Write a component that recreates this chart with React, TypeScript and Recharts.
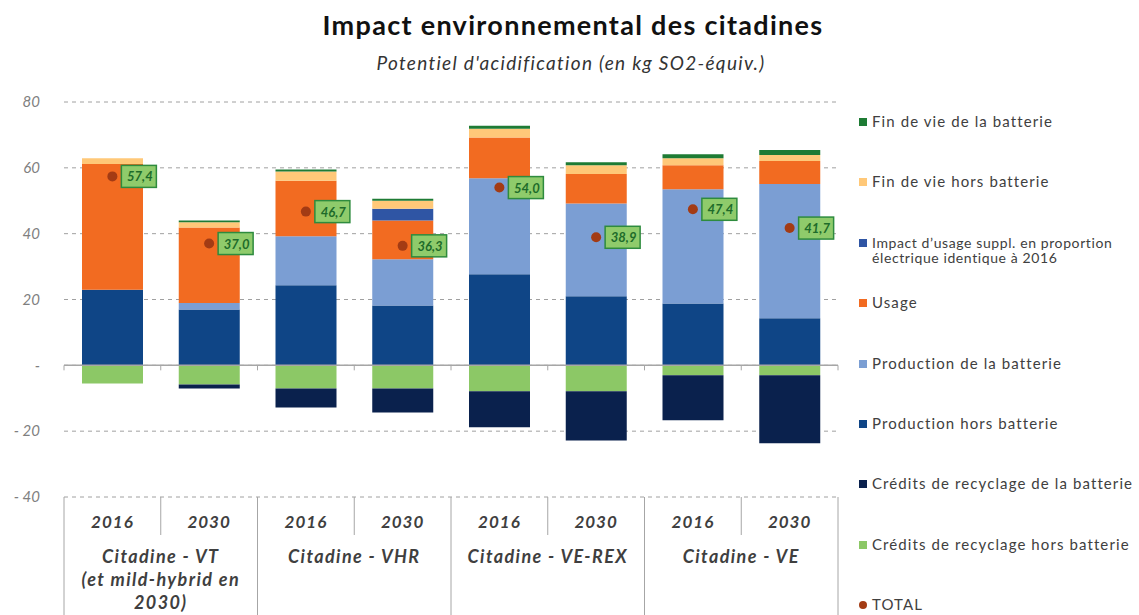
import React from 'react';
import {
  ComposedChart,
  Bar,
  Line,
  XAxis,
  YAxis,
  CartesianGrid,
  ReferenceLine,
  LabelList,
} from 'recharts';

// categories
const years = ['2016', '2030', '2016', '2030', '2016', '2030', '2016', '2030'];
const groups = [
  ['Citadine - VT', '(et mild-hybrid en', '2030)'],
  ['Citadine - VHR'],
  ['Citadine - VE-REX'],
  ['Citadine - VE'],
];

// series (kg SO2-équiv.)
const prodHors = [23.0, 17.0, 24.3, 18.2, 27.7, 21.0, 18.8, 14.3];
const prodBatt = [0, 1.9, 14.9, 14.0, 29.1, 28.2, 34.7, 40.8];
const usage = [38.2, 23.0, 16.9, 11.8, 12.4, 8.9, 7.3, 7.0];
const impactSuppl = [0, 0, 0, 3.6, 0, 0, 0, 0];
const finHors = [1.7, 1.6, 2.8, 2.4, 2.7, 2.7, 2.1, 1.8];
const finBatt = [0, 0.5, 0.6, 0.6, 0.9, 0.9, 1.2, 1.5];
const credHors = [-5.5, -5.8, -7.0, -7.0, -7.9, -7.9, -3.0, -3.0];
const credBatt = [0, -1.2, -5.8, -7.3, -10.9, -14.9, -13.7, -20.7];
const total = [57.4, 37.0, 46.7, 36.3, 54.0, 38.9, 47.4, 41.7];

const yTicks = [-40, -20, 0, 20, 40, 60, 80];

const series = [
  { key: 'prodHors', name: 'Production hors batterie', color: '#0F4586' },
  { key: 'prodBatt', name: 'Production de la batterie', color: '#7B9ED3' },
  { key: 'usage', name: 'Usage', color: '#F26B21' },
  { key: 'impactSuppl', name: "Impact d\u2019usage suppl. en proportion\nélectrique identique à 2016", color: '#2F55A4' },
  { key: 'finHors', name: 'Fin de vie hors batterie', color: '#FFC878' },
  { key: 'finBatt', name: 'Fin de vie de la batterie', color: '#1E7B34' },
  { key: 'credHors', name: 'Crédits de recyclage hors batterie', color: '#8CC866' },
  { key: 'credBatt', name: 'Crédits de recyclage de la batterie', color: '#0A214D' },
];

const legendOrder = ['finBatt', 'finHors', 'impactSuppl', 'usage', 'prodBatt', 'prodHors', 'credBatt', 'credHors'];

const data = years.map((y, i) => ({
  year: y,
  prodHors: prodHors[i],
  prodBatt: prodBatt[i],
  usage: usage[i],
  impactSuppl: impactSuppl[i],
  finHors: finHors[i],
  finBatt: finBatt[i],
  credHors: credHors[i],
  credBatt: credBatt[i],
  total: total[i],
}));

const W = 1139;
const H = 615;
const PLOT_LEFT = 64;
const PLOT_RIGHT = 838;
const PLOT_TOP = 102;
const PLOT_BOTTOM = 497;
const BAND = (PLOT_RIGHT - PLOT_LEFT) / years.length;
const ZERO_Y = PLOT_TOP + (80 / 120) * (PLOT_BOTTOM - PLOT_TOP);
const FONT = 'Lato, "Open Sans", sans-serif';
const LINE_COLOR = '#A6A6A6';

const fmtY = (v: number) => (v === 0 ? '-' : v < 0 ? `- ${Math.abs(v)}` : `${v}`);

const CategoryTick = (props: any) => {
  const { x, payload } = props;
  const i = payload.index;
  const left = x - BAND / 2;
  const right = x + BAND / 2;
  const even = i % 2 === 0;
  const lines = even ? groups[i / 2] : [];
  return (
    <g>
      <line x1={left} x2={left} y1={ZERO_Y} y2={ZERO_Y + 5} stroke={LINE_COLOR} />
      {i === years.length - 1 && (
        <line x1={right} x2={right} y1={ZERO_Y} y2={ZERO_Y + 5} stroke={LINE_COLOR} />
      )}
      <line
        x1={left}
        x2={left}
        y1={PLOT_BOTTOM}
        y2={even ? H : PLOT_BOTTOM + 38}
        stroke={LINE_COLOR}
      />
      {i === years.length - 1 && (
        <line x1={right} x2={right} y1={PLOT_BOTTOM} y2={H} stroke={LINE_COLOR} />
      )}
      <text
        x={x}
        y={PLOT_BOTTOM + 31}
        textAnchor="middle"
        fontFamily={FONT}
        fontSize={17}
        fontWeight="bold"
        fontStyle="italic"
        letterSpacing={1}
        fill="#3F3F3F"
      >
        {payload.value}
      </text>
      {lines.map((t: string, k: number) => (
        <text
          key={k}
          x={right}
          y={PLOT_BOTTOM + 66 + k * 23}
          textAnchor="middle"
          fontFamily={FONT}
          fontSize={18}
          fontWeight="bold"
          fontStyle="italic"
          letterSpacing={1.4}
          fill="#3F3F3F"
        >
          {t}
        </text>
      ))}
    </g>
  );
};

const TotalLabel = (props: any) => {
  const { x, y, value } = props;
  const bx = x + 9;
  return (
    <g>
      <rect x={bx} y={y - 11} width={35} height={22} fill="#8FCB6B" stroke="#2E8B3E" strokeWidth={1.5} />
      <text
        x={bx + 18.5}
        y={y + 5}
        textAnchor="middle"
        fontFamily={FONT}
        fontSize={13}
        fontWeight="bold"
        fontStyle="italic"
        fill="#1E6B2A"
      >
        {Number(value).toFixed(1).replace('.', ',')}
      </text>
    </g>
  );
};

const LegendBox = () => {
  const items = legendOrder.map((k) => series.find((s) => s.key === k)!);
  const rows = [...items.map((s) => ({ name: s.name, color: s.color, dot: false })), { name: 'TOTAL', color: '#A33B14', dot: true }];
  return (
    <div style={{ position: 'absolute', left: 859, top: 0, fontFamily: FONT, color: '#404040' }}>
      {rows.map((r, i) => {
        const multi = r.name.includes('\n');
        return (
          <div key={i} style={{ position: 'absolute', top: 122 + i * 60.4 - 9, left: 0, display: 'flex', whiteSpace: 'nowrap' }}>
            <span
              style={{
                display: 'inline-block',
                width: 8,
                height: 8,
                marginTop: 5,
                marginRight: 5,
                background: r.color,
                borderRadius: r.dot ? '50%' : 0,
              }}
            />
            <span
              style={{
                lineHeight: multi ? '15px' : '17px',
                whiteSpace: 'pre',
                fontSize: multi ? 14 : 15,
                letterSpacing: multi ? 0.6 : 1.1,
                marginTop: multi ? 1 : 0,
              }}
            >
              {r.name}
            </span>
          </div>
        );
      })}
    </div>
  );
};

export default function App() {
  return (
    <div style={{ position: 'absolute', left: 0, top: 0, width: W, height: H, background: '#fff', overflow: 'hidden' }}>
      <div
        style={{
          position: 'absolute',
          top: 8,
          left: 0,
          width: 1146,
          textAlign: 'center',
          fontFamily: FONT,
          fontWeight: 'bold',
          fontSize: 27,
          letterSpacing: 1.3,
          color: '#111',
        }}
      >
        Impact environnemental des citadines
      </div>
      <div
        style={{
          position: 'absolute',
          top: 51,
          left: 0,
          width: 1142,
          textAlign: 'center',
          fontFamily: FONT,
          fontStyle: 'italic',
          fontSize: 19,
          letterSpacing: 1.3,
          color: '#333',
        }}
      >
        Potentiel d'acidification (en kg SO2-équiv.)
      </div>
      <ComposedChart
        width={W}
        height={H}
        data={data}
        stackOffset="sign"
        margin={{ top: PLOT_TOP, right: W - PLOT_RIGHT, bottom: 0, left: PLOT_LEFT - 50 }}
      >
        <CartesianGrid vertical={false} stroke="#A0A0A0" strokeDasharray="4 4" />
        <XAxis
          dataKey="year"
          axisLine={false}
          tickLine={false}
          tickSize={0}
          tickMargin={0}
          height={H - PLOT_BOTTOM}
          interval={0}
          tick={<CategoryTick />}
        />
        <YAxis
          domain={[-40, 80]}
          ticks={yTicks}
          width={50}
          axisLine={false}
          tickLine={false}
          tickSize={0}
          tickMargin={24}
          tickFormatter={fmtY}
          tick={{ fontFamily: FONT, fontSize: 15, fontStyle: 'italic', fill: '#7F7F7F' }}
        />
        {series.map((s) => (
          <Bar
            key={s.key}
            dataKey={s.key}
            name={s.name}
            stackId="a"
            fill={s.color}
            barSize={61}
            isAnimationActive={false}
          />
        ))}
        <ReferenceLine y={0} stroke={LINE_COLOR} strokeWidth={1.5} />
        <Line
          dataKey="total"
          name="TOTAL"
          stroke="none"
          dot={{ r: 5, fill: '#A33B14', stroke: 'none' }}
          activeDot={false}
          isAnimationActive={false}
        >
          <LabelList dataKey="total" content={<TotalLabel />} />
        </Line>
      </ComposedChart>
      <LegendBox />
    </div>
  );
}
